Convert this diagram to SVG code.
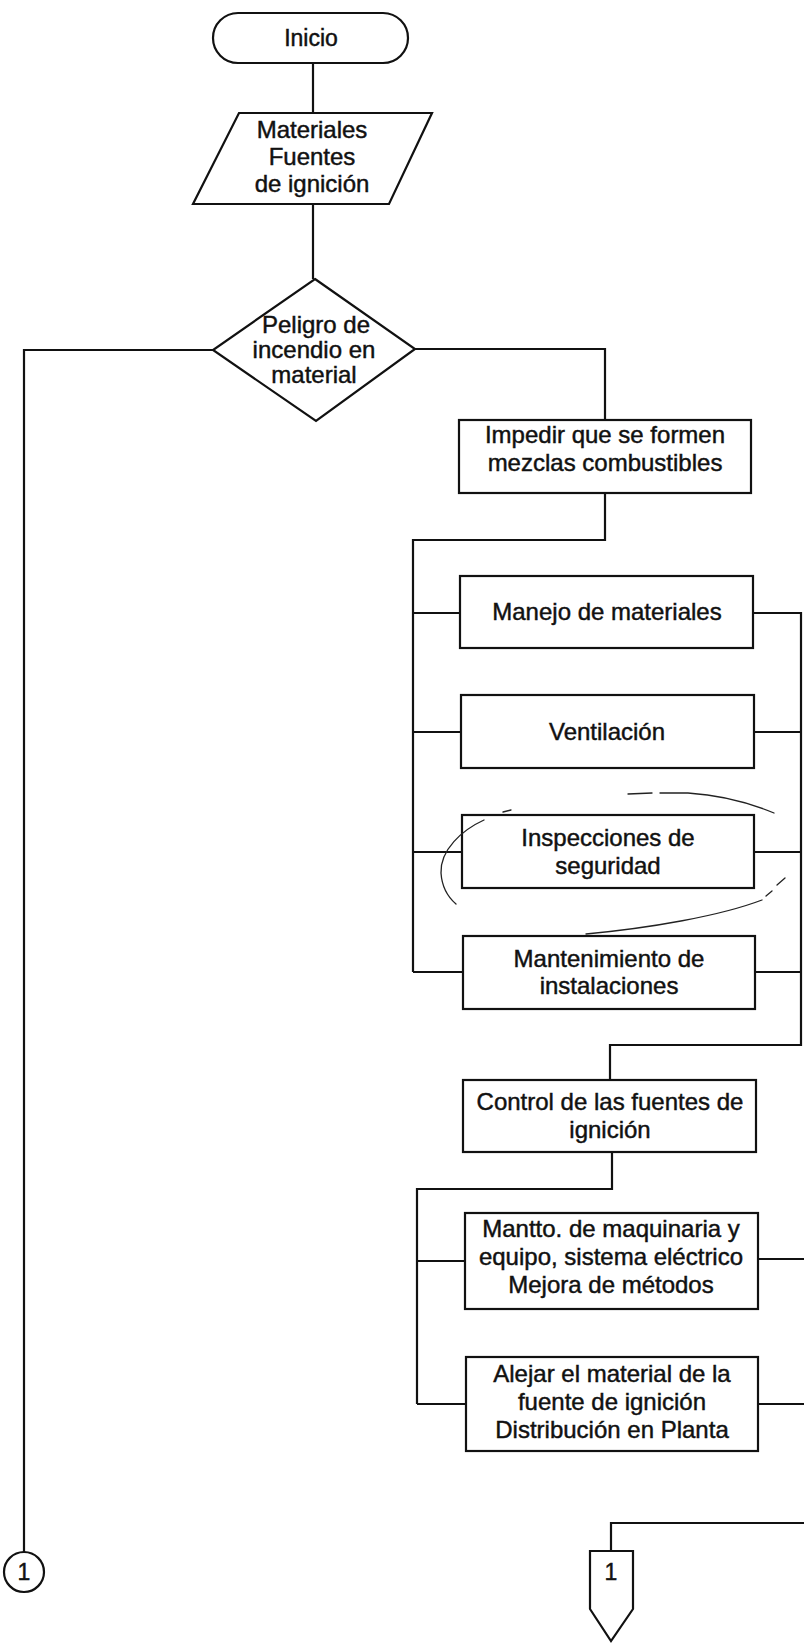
<svg xmlns="http://www.w3.org/2000/svg" width="804" height="1643" viewBox="0 0 804 1643">
  <style>
    .shape { fill: #ffffff; stroke: #111111; stroke-width: 2.2; }
    .wire { fill: none; stroke: #111111; stroke-width: 2.2; stroke-linejoin: miter; }
    .pen { fill: none; stroke: #222222; stroke-width: 1.3; stroke-linecap: round; }
    text { font-family: "Liberation Sans", Arial, sans-serif; fill: #111111; stroke: #111111; stroke-width: 0.45; text-anchor: middle; }
    .t23 { font-size: 23px; }
    .t24 { font-size: 24px; }
  </style>
  <rect width="804" height="1643" fill="#ffffff"/>

  <!-- connectors -->
  <g id="connectors">
    <path class="wire" d="M313 63 V113"/>
    <path class="wire" d="M313 204 V279"/>
    <!-- "no" branch down to on-page connector -->
    <path class="wire" d="M213 350 H24 V1552"/>
    <!-- "yes" branch -->
    <path class="wire" d="M415 349 H605 V420"/>
    <path class="wire" d="M605 493 V540 H413 V972"/>
    <path class="wire" d="M413 613 H460"/>
    <path class="wire" d="M413 732 H461"/>
    <path class="wire" d="M413 852 H462"/>
    <path class="wire" d="M413 972 H463"/>
    <path class="wire" d="M753 613 H801 V1045 H610 V1080"/>
    <path class="wire" d="M754 732 H801"/>
    <path class="wire" d="M754 852 H801"/>
    <path class="wire" d="M755 972 H801"/>
    <path class="wire" d="M612 1152 V1189 H417 V1404"/>
    <path class="wire" d="M417 1261 H465"/>
    <path class="wire" d="M417 1404 H466"/>
    <path class="wire" d="M758 1259 H804"/>
    <path class="wire" d="M758 1404 H804"/>
    <path class="wire" d="M804 1523 H611 V1551"/>
  </g>

  <!-- start terminal -->
  <g id="inicio">
    <rect class="shape" x="213" y="13" width="195" height="50" rx="25" ry="25"/>
    <text class="t23" x="311" y="46">Inicio</text>
  </g>

  <!-- input data -->
  <g id="materiales">
    <polygon class="shape" points="239,113 432,113 389,204 193,204"/>
    <text class="t24" x="312" y="138">Materiales</text>
    <text class="t24" x="312" y="165">Fuentes</text>
    <text class="t24" x="312" y="192">de ignición</text>
  </g>

  <!-- decision -->
  <g id="peligro">
    <polygon class="shape" points="315,279 415,349 316,421 213,350"/>
    <text class="t24" x="316" y="333">Peligro de</text>
    <text class="t24" x="314" y="358">incendio en</text>
    <text class="t24" x="314" y="383">material</text>
  </g>

  <g id="impedir">
    <rect class="shape" x="459" y="420" width="292" height="73"/>
    <text class="t24" x="605" y="443">Impedir que se formen</text>
    <text class="t24" x="605" y="471">mezclas combustibles</text>
  </g>

  <g id="manejo">
    <rect class="shape" x="460" y="576" width="293" height="72"/>
    <text class="t24" x="607" y="620">Manejo de materiales</text>
  </g>

  <g id="ventilacion">
    <rect class="shape" x="461" y="695" width="293" height="73"/>
    <text class="t24" x="607" y="740">Ventilación</text>
  </g>

  <g id="inspecciones">
    <rect class="shape" x="462" y="815" width="292" height="73"/>
    <text class="t24" x="608" y="846">Inspecciones de</text>
    <text class="t24" x="608" y="874">seguridad</text>
  </g>

  <g id="mantenimiento">
    <rect class="shape" x="463" y="936" width="292" height="73"/>
    <text class="t24" x="609" y="967">Mantenimiento de</text>
    <text class="t24" x="609" y="994">instalaciones</text>
  </g>

  <g id="control">
    <rect class="shape" x="463" y="1080" width="293" height="72"/>
    <text class="t24" x="610" y="1110">Control de las fuentes de</text>
    <text class="t24" x="610" y="1138">ignición</text>
  </g>

  <g id="mantto">
    <rect class="shape" x="465" y="1213" width="293" height="96"/>
    <text class="t24" x="611" y="1237">Mantto. de maquinaria y</text>
    <text class="t24" x="611" y="1265">equipo, sistema eléctrico</text>
    <text class="t24" x="611" y="1293">Mejora de métodos</text>
  </g>

  <g id="alejar">
    <rect class="shape" x="466" y="1357" width="292" height="94"/>
    <text class="t24" x="612" y="1382">Alejar el material de la</text>
    <text class="t24" x="612" y="1410">fuente de ignición</text>
    <text class="t24" x="612" y="1438">Distribución en Planta</text>
  </g>

  <!-- on-page connector -->
  <g id="conector-1">
    <circle class="shape" cx="24" cy="1572" r="20"/>
    <text class="t23" x="24" y="1580">1</text>
  </g>

  <!-- off-page connector -->
  <g id="salida-1">
    <polygon class="shape" points="590,1551 633,1551 633,1609 611,1641 590,1609"/>
    <text class="t23" x="611" y="1580">1</text>
  </g>

  <!-- hand-drawn pen loop around the inspections box -->
  <g id="marca">
    <path class="pen" d="M628 794 L652 793"/>
    <path class="pen" d="M660 793 L688 793 C720 795 750 803 774 813"/>
    <path class="pen" d="M503 812 L511 810"/>
    <path class="pen" d="M484 820 C462 830 440 850 441 873 C442 888 449 898 456 904"/>
    <path class="pen" d="M586 934 C650 928 720 916 762 900"/>
    <path class="pen" d="M766 896 L772 891"/>
    <path class="pen" d="M777 885 L785 878"/>
  </g>
</svg>
